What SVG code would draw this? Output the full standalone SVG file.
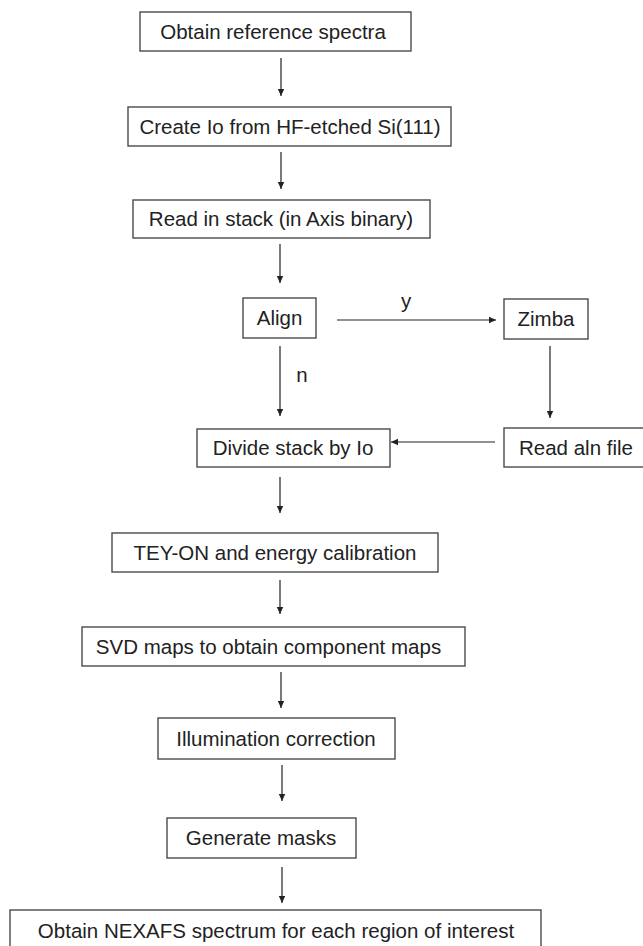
<svg xmlns="http://www.w3.org/2000/svg" width="643" height="946" viewBox="0 0 643 946">
<style>
rect.b{fill:#fff;stroke:#4a4a4a;stroke-width:1.4}
text{font-family:"Liberation Sans",Arial,sans-serif;font-size:20.5px;fill:#222;text-anchor:middle}
.c line{stroke:#222;stroke-width:1.2;marker-end:url(#ah)}
</style>
<defs>
<marker id="ah" markerWidth="8" markerHeight="8" refX="7" refY="4" orient="auto" markerUnits="userSpaceOnUse">
<path d="M0,0.8 L7,4 L0,7.2 Z" fill="#222"/>
</marker>
</defs>
<rect width="643" height="946" fill="#fff"/>
<g class="c" id="connectors">
<line x1="281" y1="58" x2="281" y2="96"/>
<line x1="281" y1="152" x2="281" y2="189"/>
<line x1="280" y1="244" x2="280" y2="283"/>
<line x1="337" y1="320" x2="496" y2="320"/>
<line x1="550" y1="346" x2="550" y2="418"/>
<line x1="280" y1="346" x2="280" y2="416"/>
<line x1="495" y1="442" x2="391" y2="442"/>
<line x1="280" y1="477" x2="280" y2="513"/>
<line x1="280" y1="580" x2="280" y2="614"/>
<line x1="281" y1="672" x2="281" y2="708"/>
<line x1="282" y1="765" x2="282" y2="801"/>
<line x1="282" y1="867" x2="282" y2="903"/>
<text x="406" y="308">y</text>
<text x="302" y="382">n</text>
</g>
<g id="n1"><rect class="b" x="140" y="12" width="271" height="39"/><text x="273" y="39">Obtain reference spectra</text></g>
<g id="n2"><rect class="b" x="128" y="107" width="323" height="39"/><text x="290" y="134">Create Io from HF-etched Si(111)</text></g>
<g id="n3"><rect class="b" x="133" y="200" width="297" height="38"/><text x="281" y="226">Read in stack (in Axis binary)</text></g>
<g id="n4"><rect class="b" x="243" y="298" width="73" height="40"/><text x="279.5" y="325">Align</text></g>
<g id="n5"><rect class="b" x="504" y="299" width="84" height="40"/><text x="546" y="326">Zimba</text></g>
<g id="n6"><rect class="b" x="197" y="429" width="193" height="38"/><text x="293" y="455">Divide stack by Io</text></g>
<g id="n7"><rect class="b" x="504" y="428" width="150" height="39"/><text x="576" y="455">Read aln file</text></g>
<g id="n8"><rect class="b" x="112" y="533" width="326" height="39"/><text x="275" y="560">TEY-ON and energy calibration</text></g>
<g id="n9"><rect class="b" x="82" y="627" width="383" height="39"/><text x="268.5" y="654">SVD maps to obtain component maps</text></g>
<g id="n10"><rect class="b" x="158" y="718" width="237" height="41"/><text x="276" y="746">Illumination correction</text></g>
<g id="n11"><rect class="b" x="167" y="818" width="189" height="40"/><text x="261" y="845">Generate masks</text></g>
<g id="n12"><rect class="b" x="10" y="910" width="531" height="42"/><text x="276" y="938">Obtain NEXAFS spectrum for each region of interest</text></g>
</svg>
